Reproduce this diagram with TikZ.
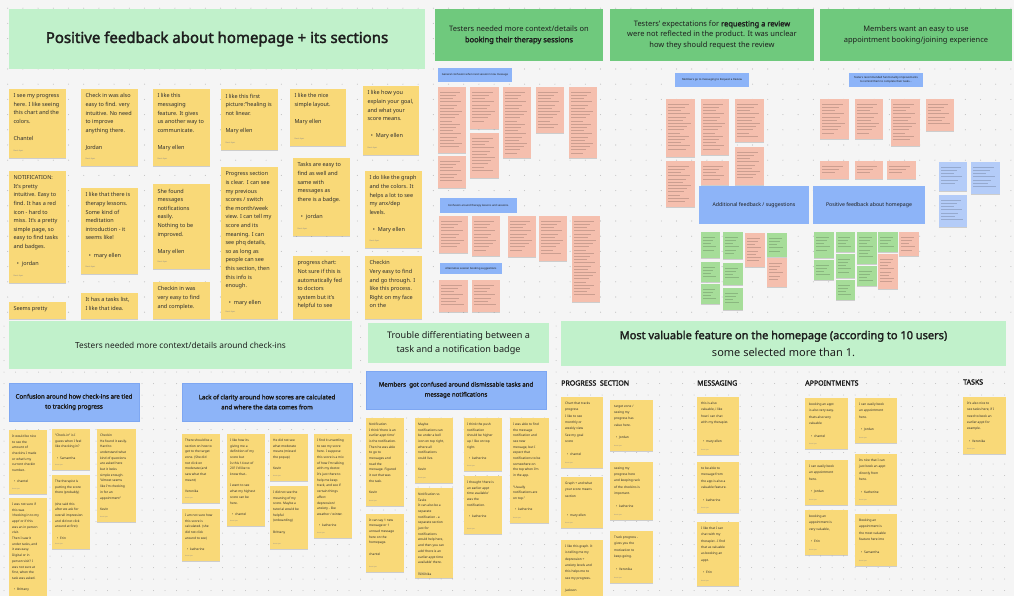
\documentclass[tikz,border=0pt]{standalone}
\usepackage{fontspec}
\setmainfont{Noto Sans}[AutoFakeBold=2.2]
\usetikzlibrary{shadows}
\definecolor{bg}{HTML}{F5F5F5}
\definecolor{dotc}{HTML}{BDBDBD}
\definecolor{ink}{HTML}{1E1E1E}
\definecolor{stxt}{HTML}{2E2E2E}
\definecolor{cLG}{HTML}{C1F1CB}
\definecolor{cMG}{HTML}{6FC97D}
\definecolor{cBlue}{HTML}{8DB4F8}
\definecolor{cBlueD}{HTML}{7EA7F2}
\definecolor{cY}{HTML}{F9D978}
\definecolor{cP}{HTML}{F5BFAE}
\definecolor{cG}{HTML}{A6DD99}
\definecolor{cB}{HTML}{B4CCF8}
\newcommand{\bk}{\\[\baselineskip]}
\newcommand{\bu}{\hspace*{0.6em}\textbullet\hspace{0.55em}}
% sticky with author label
\newcommand{\stk}[8]{%
  \node[#2, minimum width=#6pt, minimum height=#7pt] (#1) at (#4,#5) {};
  \node[#3] (#1-t) at (#1.north west) {#8};
  \node[#3 a] (#1-a) at (#1.south west) {Deniz Ayaz};}
% sticky cut off by the frame (no author label visible)
\newcommand{\stkc}[8]{%
  \node[#2, minimum width=#6pt, minimum height=#7pt] (#1) at (#4,#5) {};
  \node[#3] (#1-t) at (#1.north west) {#8};}
% tiny sticky with unreadable text
\newcommand{\tstk}[6]{%
  \node[#2, minimum width=#5pt, minimum height=#6pt] (#1) at (#3,#4) {};
  \pgfmathtruncatemacro{\tnl}{(#6-7)/3.2}%
  \foreach \kk in {1,...,\tnl}{%
    \pgfmathsetmacro{\tlen}{(#5-5)*(0.5+0.5*mod(\kk*37,10)/10)}%
    \draw[tline] ([shift={(2.2pt,-1.8pt-3.2*\kk pt)}]#1.north west) -- ++(\tlen,0);}}
\begin{document}
\begin{tikzpicture}[x=1pt,y=-1pt,
  base/.style={anchor=north west, inner sep=0pt, outer sep=0pt},
  shad/.style={drop shadow={shadow xshift=0.2pt, shadow yshift=-0.6pt, opacity=0.16, fill=black}},
  yel/.style={base, fill=cY, shad},
  pnk/.style={base, fill=cP, shad},
  grs/.style={base, fill=cG, shad},
  bls/.style={base, fill=cB, shad},
  hdrL/.style={base, fill=cLG, text=ink, align=center},
  hdrM/.style={base, fill=cMG, text=ink, align=center, font=\fontsize{7.5}{10.6}\selectfont},
  blubox/.style={base, fill=cBlue, draw=cBlueD, line width=0.4pt, text=ink, align=center},
  tline/.style={draw=black, opacity=0.17, line width=0.3pt},
  tA/.style={anchor=north west, inner sep=0pt, align=left, text=stxt, font=\fontsize{5.5}{8.6}\selectfont, xshift=4.3pt, yshift=-4.6pt},
  tA a/.style={anchor=south west, inner sep=0pt, text=black!45, font=\fontsize{1.9}{2}\selectfont, xshift=4.3pt, yshift=5.6pt},
  tB/.style={anchor=north west, inner sep=0pt, align=left, text=stxt, font=\fontsize{3.2}{5.7}\selectfont, xshift=3pt, yshift=-4.7pt},
  tB a/.style={anchor=south west, inner sep=0pt, text=black!45, font=\fontsize{1.5}{2}\selectfont, xshift=3pt, yshift=4pt},
  tC/.style={anchor=north west, inner sep=0pt, align=left, text=stxt, font=\fontsize{3.2}{6.35}\selectfont, xshift=4pt, yshift=-4.7pt},
  tC a/.style={anchor=south west, inner sep=0pt, text=black!45, font=\fontsize{1.5}{2}\selectfont, xshift=4pt, yshift=4.3pt},
  sec/.style={anchor=west, inner sep=0pt, text=ink, font=\fontsize{7}{8}\selectfont\bfseries},
  lbl/.style={base, fill=cBlue, text=ink, align=center, font=\fontsize{2.7}{3.6}\selectfont}
]
\useasboundingbox (0,0) rectangle (1014,596);
\fill[bg] (0,0) rectangle (1014,596);
% dot grids
\fill[dotc] \foreach \i in {0,...,66}{\foreach \j in {0,...,20}{(7.7+15.2*\i,8.2+15.2*\j) circle (0.55pt)}};
\fill[dotc] \foreach \i in {0,...,87}{\foreach \j in {0,...,23}{(4+11.5*\i,326+11.5*\j) circle (0.5pt)}};

% ================= TOP LEFT =================
\node[hdrL, minimum width=416pt, minimum height=60pt, font=\fontsize{15}{17}\selectfont\bfseries] (hTL) at (9,9) {Positive feedback about homepage + its sections};

\stk{s1}{yel}{tA}{9}{89}{57}{69}{I see my progress\\here. I like seeing\\this chart and the\\colors.\bk Chantel}
\stk{s2}{yel}{tA}{9}{171}{57}{112}{NOTIFICATION:\\It's pretty\\intuitive. Easy to\\find. It has a red\\icon - hard to\\miss. It's a pretty\\simple page, so\\easy to find tasks\\and badges.\bk\bu jordan}
\stkc{s3}{yel}{tA}{9}{302}{57}{17}{Seems pretty}
\stk{s4}{yel}{tA}{81}{89}{57}{77}{Check in was also\\easy to find. very\\intuitive. No need\\to improve\\anything there.\bk Jordan}
\stk{s5}{yel}{tA}{81}{188}{57}{86}{I like that there is\\therapy lessons.\\Some kind of\\meditation\\introduction - it\\seems like!\bk\bu mary ellen}
\stkc{s6}{yel}{tA}{81}{293}{57}{26}{It has a tasks list,\\I like that idea.}
\stk{s7}{yel}{tA}{153}{89}{57}{77}{I like this\\messaging\\feature. It gives\\us another way to\\communicate.\bk Mary ellen}
\stk{s8}{yel}{tA}{153}{184}{57}{85}{She found\\messages\\notifications\\easily.\\Nothing to be\\improved.\bk Mary ellen}
\stkc{s9}{yel}{tA}{153}{282}{57}{37}{Checkin in was\\very easy to find\\and complete.}
\stk{s10}{yel}{tA}{221}{89}{57}{61}{I like this first\\picture:"healing is\\not linear.\bk Mary ellen}
\stk{s11}{yel}{tA}{221}{167}{57}{152}{Progress section\\is clear.\ \ I can see\\my previous\\scores / switch\\the month/week\\view. I can tell my\\score and its\\meaning. I can\\see phq details,\\so as long as\\people can see\\this section, then\\this info is\\enough.\bk\bu mary ellen}
\stk{s12}{yel}{tA}{290}{89}{56}{57}{I like the nice\\simple layout.\bk Mary ellen}
\stk{s13}{yel}{tA}{293}{158}{57}{78}{Tasks are easy to\\find as well and\\same with\\messages as\\there is a badge.\bk\bu jordan}
\stkc{s14}{yel}{tA}{293}{256}{57}{63}{progress chart:\\Not sure if this is\\automatically fed\\to doctors\\system but it's\\helpful to see}
\stk{s15}{yel}{tA}{363}{86}{56}{69}{I like how you\\explain your goal,\\and what your\\score means.\bk\bu Mary ellen}
\stk{s16}{yel}{tA}{365}{171}{57}{77}{I do like the graph\\and the colors. It\\helps a lot to see\\my anx/dep\\levels.\bk\bu Mary ellen}
\stkc{s17}{yel}{tA}{365}{256}{57}{63}{Checkin\\Very easy to find\\and go through. I\\like this process.\\Right on my face\\on the}

% ================= TOP RIGHT =================
\node[hdrM, minimum width=168pt, minimum height=52pt] (hM1) at (435,9) {Testers needed more context/details on\\\textbf{booking their therapy sessions}};
\node[hdrM, minimum width=204pt, minimum height=52pt] (hM2) at (610,9) {Testers' expectations for \textbf{requesting a review}\\were not reflected in the product. It was unclear\\how they should request the review};
\node[hdrM, minimum width=192pt, minimum height=52pt] (hM3) at (820,9) {Members want an easy to use\\appointment booking/joining experience};

\node[lbl, minimum width=74pt, minimum height=14pt] (bl1) at (438,68) {General confusion when next session/ now message};
\node[lbl, minimum width=77pt, minimum height=15pt] (bl2) at (440,198) {Confusion around therapy lessons and sessions.};
\node[lbl, minimum width=62pt, minimum height=11pt] (bl3) at (440,263) {Alternative session booking suggestions};
\node[lbl, minimum width=74pt, minimum height=14pt] (bl4) at (675,73) {Members go to messaging to Request a Review};
\node[lbl, minimum width=74pt, minimum height=14pt] (bl5) at (849,73) {Testers recommended functionality improvements\\to remind them to complete their tasks...};

% pink stickies, booking sessions
\tstk{q1}{pnk}{438}{87}{28}{66}
\tstk{q2}{pnk}{438}{156}{28}{32}
\tstk{q3}{pnk}{470}{87}{29}{42}
\tstk{q4}{pnk}{470}{133}{29}{45}
\tstk{q5}{pnk}{503}{87}{28}{71}
\tstk{q6}{pnk}{536}{87}{28}{46}
\tstk{q7}{pnk}{569}{87}{28}{71}
\tstk{q8}{pnk}{439}{216}{29}{37}
\tstk{q9}{pnk}{472}{216}{28}{40}
\tstk{q10}{pnk}{508}{216}{28}{41}
\tstk{q11}{pnk}{539}{216}{28}{45}
\tstk{q12}{pnk}{572}{216}{28}{86}
\tstk{q13}{pnk}{439}{280}{29}{32}
\tstk{q14}{pnk}{472}{280}{28}{32}
% pink stickies, review
\tstk{r1}{pnk}{666}{99}{29}{58}
\tstk{r2}{pnk}{666}{161}{29}{46}
\tstk{r3}{pnk}{701}{99}{28}{56}
\tstk{r4}{pnk}{701}{161}{28}{24}
\tstk{r5}{pnk}{735}{99}{29}{43}
\tstk{r6}{pnk}{735}{147}{29}{38}
% pink stickies, appointment booking
\tstk{w1}{pnk}{820}{99}{29}{40}
\tstk{w2}{pnk}{855}{99}{28}{40}
\tstk{w3}{pnk}{891}{99}{29}{47}
\tstk{w4}{pnk}{926}{99}{28}{32}
\tstk{w5}{pnk}{820}{161}{29}{18}
\tstk{w6}{pnk}{855}{161}{28}{18}
\tstk{w7}{pnk}{887}{161}{29}{18}
\tstk{u1}{bls}{939}{162}{28}{29}
\tstk{u2}{bls}{971}{162}{29}{32}
\tstk{u3}{bls}{939}{195}{28}{32}

\node[blubox, draw=none, minimum width=110pt, minimum height=38pt, font=\fontsize{5.2}{6}\selectfont] (bb1) at (699,186) {Additional feedback / suggestions};
\node[blubox, draw=none, minimum width=112pt, minimum height=38pt, font=\fontsize{5.2}{6}\selectfont] (bb2) at (813,186) {Positive feedback about homepage};

% small green / pink stickies under the two blue boxes
\tstk{g1}{grs}{701}{232}{19}{26}
\tstk{g2}{grs}{701}{262}{19}{20}
\tstk{g3}{grs}{701}{284}{19}{20}
\tstk{g4}{grs}{723}{232}{20}{27}
\tstk{g5}{grs}{723}{263}{20}{22}
\tstk{g6}{grs}{723}{288}{20}{22}
\tstk{g7}{pnk}{745}{233}{20}{34}
\tstk{g8}{grs}{767}{233}{20}{24}
\tstk{g9}{pnk}{767}{258}{20}{29}
\tstk{h1}{grs}{814}{232}{20}{26}
\tstk{h2}{grs}{814}{260}{20}{20}
\tstk{h3}{grs}{836}{232}{19}{20}
\tstk{h4}{grs}{836}{254}{19}{24}
\tstk{h5}{grs}{836}{280}{19}{20}
\tstk{h6}{grs}{857}{232}{20}{32}
\tstk{h7}{grs}{857}{266}{20}{20}
\tstk{h8}{grs}{878}{232}{20}{20}
\tstk{h9}{pnk}{878}{254}{20}{35}
\tstk{h10}{pnk}{899}{232}{20}{24}

% ================= BOTTOM LEFT =================
\node[hdrL, minimum width=343pt, minimum height=48pt, font=\fontsize{8.3}{14}\selectfont] (hB1) at (9,321) {Testers needed more context/details around check-ins};
\node[blubox, minimum width=130pt, minimum height=38pt, font=\fontsize{6.1}{10}\selectfont\bfseries] (bx1) at (9,383) {Confusion around how check-ins are tied\\to tracking progress};
\node[blubox, minimum width=170pt, minimum height=38pt, font=\fontsize{6.1}{10}\selectfont\bfseries] (bx2) at (182,383) {Lack of clarity around how scores are calculated\\and where the data comes from};

\stk{ca}{yel}{tB}{9}{430}{38}{64}{It would be nice\\to see the\\amount of\\checkins I made\\or what's my\\current checkin\\number..\bk\bu chantel}
\stkc{cb}{yel}{tB}{9}{498}{38}{98}{I was not sure if\\this was\\'checking in to my\\appt' or if this\\was an in person\\visit.\\Then I saw it\\under tasks, and\\it was easy.\\Digital or in\\person visit? I\\was not sure at\\first, when the\\task was asked.\bk\bu Brittany}
\stk{cc}{yel}{tB}{52}{429}{38}{41}{"Check-in" is I\\guess when I feel\\like checking in?\bk\bu Samantha}
\stk{cd}{yel}{tB}{52}{475}{38}{74}{The therapist is\\putting the score\\there (probably)\bk(she said this\\after we ask for\\overall impression\\and did not click\\around at first)\bk\bu Erin}
\stk{ce}{yel}{tB}{97}{429}{39}{93}{Checkin\\He found it easily.\\Hard to\\understand what\\kind of questions\\are asked here\\but it looks\\simple enough.\\"Almost seems\\like I'm checking\\in for an\\appointment"\bk Kevin}
\stk{cf}{yel}{tB}{182}{434}{38}{69}{There should be a\\section on how to\\get to the target\\zone. (She did\\not click on\\moderate (and\\saw what that\\meant)\bk Veronika}
\stk{cg}{yel}{tB}{182}{509}{38}{52}{I am not sure how\\this score is\\calculated. (she\\did not click\\around to see)\bk\bu katherine}
\stk{ch}{yel}{tB}{227}{434}{38}{92}{I like how its\\giving me a\\definition of my\\score but\\Is this 14 out of\\20? I'd like to\\know that..\bk I want to see\\what my highest\\score can be\\here.\bk\bu chantel}
\stk{ci}{yel}{tB}{270}{434}{38}{47}{He did not see\\what moderate\\means (missed\\the popup)\bk Kevin}
\stk{cj}{yel}{tB}{270}{486}{38}{63}{I did not see the\\meaning of my\\score. Maybe a\\tutorial would be\\helpful\\(onboarding)\bk Brittany}
\stk{ck}{yel}{tB}{314}{434}{38}{104}{I find it unsettling\\to see my score\\here. I suppose\\this score is a mix\\of how I'm talking\\with my doctor.\\It's just there to\\help me keep\\track, and see if\\certain things\\affect\\depression/\\anxiety - like\\weather / winter.\bk\bu katherine}

% ================= BOTTOM MIDDLE =================
\node[hdrL, minimum width=181pt, minimum height=40pt, font=\fontsize{9.1}{14}\selectfont] (hB2) at (368,323) {Trouble differentiating between a\\task and a notification badge};
\node[blubox, minimum width=180pt, minimum height=38pt, font=\fontsize{6.1}{10}\selectfont\bfseries] (bx3) at (366,371) {Members\ \ got confused around dismissable tasks and\\message notifications};

\stk{n1}{yel}{tB}{366}{418}{38}{88}{Notification\\I think 'there is an\\earlier appt time'\\is the notification.\\Then he was able\\to go to\\messages and\\read the\\message. Figured\\it out that was\\the task.\bk Kevin}
\stk{n2}{yel}{tB}{366}{514}{38}{58}{It can say 1 new\\message or 1\\unread message\\here on the\\homepage.\bk chantel}
\stk{n3}{yel}{tB}{415}{418}{38}{65}{Maybe\\notifications can\\be under a bell\\icon on top right,\\where all\\notifications\\could live.\bk Kevin}
\stk{n4}{yel}{tB}{415}{488}{38}{90}{Notification vs\\Tasks\\It can also be a\\separate\\notification - a\\separate section\\just for\\notifications\\would help here,\\and then you can\\add 'there is an\\earlier appt time\\available' there.\bk Veronika}
\stk{n5}{yel}{tB}{464}{418}{38}{53}{I think the push\\notification\\should be higher\\up / like on top\\right.\bk\bu katherine}
\stk{n6}{yel}{tB}{464}{476}{38}{58}{I thought 'there is\\an earlier appt\\time available'\\was the\\notification.\bk\bu katherine}
\stk{n7}{yel}{tB}{510}{418}{39}{105}{I was able to find\\the message\\notification and\\see new\\message, but I\\expect that\\notifications to be\\somewhere on\\the top when I'm\\in the app.\bk"Usually\\notifications are\\on top."\bk\bu katherine}

% ================= BOTTOM RIGHT =================
\node[hdrL, minimum width=445pt, minimum height=45pt, font=\fontsize{11}{17}\selectfont] (hB3) at (561,321) {\textbf{Most valuable feature on the homepage (according to 10 users)}\\some selected more than 1.};

\node[sec] (lprog) at (561,383) {PROGRESS\ \ SECTION};
\node[sec] (lmsg) at (697,383) {MESSAGING};
\node[sec] (lapp) at (805,383) {APPOINTMENTS};
\node[sec] (ltask) at (963,382) {TASKS};

\stk{p1}{yel}{tC}{561}{397}{42}{71}{Chart that tracks\\progress\\I like to see\\monthly or\\weekly view\\See my goal\\score\bk\bu chantel}
\stk{p2}{yel}{tC}{561}{477}{42}{51}{Graph + and what\\your score means\\section\\[2\baselineskip]\bu mary ellen}
\stkc{p3}{yel}{tC}{561}{540}{42}{56}{I like this graph. It\\is telling me my\\depression +\\anxiety levels and\\this helps me to\\see my progress.\bk Jackson}
\stk{p4}{yel}{tC}{610}{400}{43}{51}{target zone /\\seeing my\\progress has\\value here.\bk\bu Jordan}
\stk{p5}{yel}{tC}{610}{462}{43}{58}{seeing my\\progress here\\and keeping rack\\of the checkins is\\important.\bk\bu katherine}
\stk{p6}{yel}{tC}{610}{531}{43}{52}{Track progress -\\gives you the\\motivation to\\keep going.\bk\bu Veronika}
\stk{m1}{yel}{tC}{697}{397}{42}{58}{this is also\\valuable, i like\\how i can chat\\with my therapist.\\[2\baselineskip]\bu mary ellen}
\stk{m2}{yel}{tC}{697}{462}{42}{51}{to be able to\\message from\\the app is also a\\valuable feature.\bk\bu katherine}
\stk{m3}{yel}{tC}{697}{522}{42}{64}{I like that I can\\chat with my\\therapist - I find\\that as valuable\\as booking an\\appt.\bk\bu Erin}
\stk{a1}{yel}{tC}{805}{398}{43}{51}{booking an appt\\is also very easy.\\thats also very\\valuable\bk\bu chantel}
\stk{a2}{yel}{tC}{805}{460}{43}{45}{I can easily book\\an appointment\\here.\bk\bu Jordan}
\stk{a3}{yel}{tC}{805}{510}{43}{45}{booking an\\appointment is\\very valuable,\bk\bu Erin}
\stk{a4}{yel}{tC}{855}{398}{42}{45}{I can easily book\\an appointment\\here.\bk\bu Jordan}
\stk{a5}{yel}{tC}{855}{454}{42}{51}{Its nice that I can\\just book an appt\\directly from\\here.\bk\bu Katherine}
\stk{a6}{yel}{tC}{855}{514}{42}{52}{Booking an\\appointment is\\the most valuable\\feature here imo\bk\bu Samantha}
\stk{t1}{yel}{tC}{963}{397}{43}{57}{It's also nice to\\see tasks here, if I\\need to book an\\earlier appt for\\example.\bk\bu Veronika}
\end{tikzpicture}
\end{document}
